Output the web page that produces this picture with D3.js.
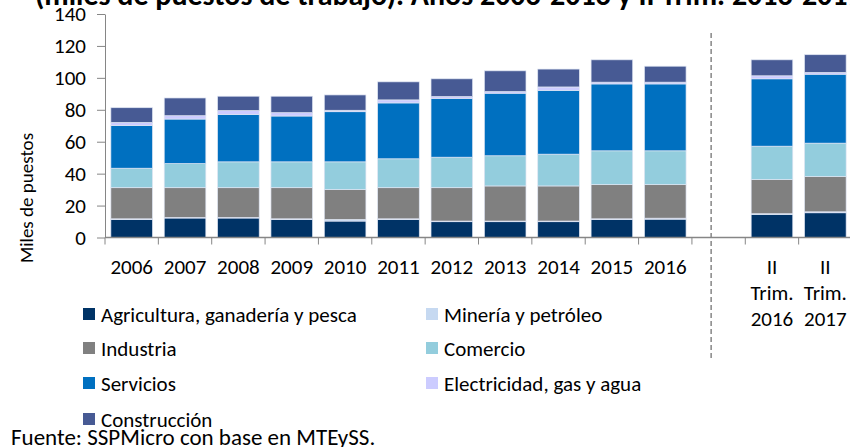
<!DOCTYPE html>
<html>
<head>
<meta charset="utf-8">
<script src="https://cdn.jsdelivr.net/npm/d3@7"></script>
<style>
  body { margin: 0; background: #fff; }
  svg { display: block; }
  text { font-family: Carlito, Calibri, Lato, sans-serif; fill: #000; }
</style>
</head>
<body>
<svg id="chart" width="850" height="447"></svg>
<script>
// categories (the blank one is the gap before the quarterly bars)
const categories = ["2006","2007","2008","2009","2010","2011","2012","2013","2014","2015","2016","gap","IIT2016","IIT2017"];
const catLabels = {
  "IIT2016": ["II","Trim.","2016"],
  "IIT2017": ["II","Trim.","2017"]
};
const barCats = categories.filter(c => c !== "gap");

// miles de puestos por sector
const agricultura  = [11.3,12.2,12.2,11.3,10.3,11.3, 9.9, 9.9, 9.9,11.3,11.5,14.5,15.5];
const mineria      = [ 0.4, 0.4, 0.4, 0.4, 1.0, 0.4, 0.4, 0.4, 0.4, 0.4, 0.6, 0.4, 0.6];
const industria    = [19.5,18.6,18.6,19.5,18.7,19.5,20.9,22.0,22.0,21.4,21.0,21.4,22.1];
const comercio     = [12.2,15.1,16.2,16.2,17.4,18.1,19.1,18.9,19.9,21.2,21.2,20.9,20.9];
const servicios    = [26.8,27.9,29.7,28.7,31.4,35.0,36.9,39.2,40.0,41.9,41.9,42.2,43.2];
const electricidad = [ 1.9, 2.1, 2.4, 2.1, 0.9, 1.9, 1.1, 1.0, 2.1, 1.1, 1.1, 1.9, 1.1];
const construccion = [ 9.2,11.1, 9.0,10.3, 9.6,11.3,11.1,13.0,11.2,14.0,10.0,10.0,11.1];

const yTicks = [0,20,40,60,80,100,120,140];

const series = [
  {key: "agricultura",  name: "Agricultura, ganadería y pesca", values: agricultura,  color: "#003366"},
  {key: "mineria",      name: "Minería y petróleo",             values: mineria,      color: "#c6d9f1"},
  {key: "industria",    name: "Industria",                      values: industria,    color: "#808080"},
  {key: "comercio",     name: "Comercio",                       values: comercio,     color: "#93cddd"},
  {key: "servicios",    name: "Servicios",                      values: servicios,    color: "#0070c0"},
  {key: "electricidad", name: "Electricidad, gas y agua",       values: electricidad, color: "#ccccff"},
  {key: "construccion", name: "Construcción",                   values: construccion, color: "#475a94"}
];

const svg = d3.select("#chart");
const axisColor = "#868686";
const labelSize = "21px";

const x = d3.scaleBand()
  .domain(categories)
  .range([105, 852])
  .paddingInner(0.22)
  .paddingOuter(0.11);

const y = d3.scaleLinear().domain([0, 140]).range([237.5, 14]);

// table for the stack
const table = barCats.map((c, i) => {
  const row = {cat: c};
  series.forEach(s => row[s.key] = s.values[i]);
  return row;
});
const stacked = d3.stack().keys(series.map(s => s.key))(table);

// title (only its last line shows at the top)
svg.append("text")
  .attr("x", 35)
  .attr("y", 5)
  .style("font-weight", "bold")
  .style("font-size", "30px")
  .text("(miles de puestos de trabajo). Años 2006-2016 y II Trim. 2016-2017");

// bars
svg.append("g")
  .selectAll("g")
  .data(stacked)
  .join("g")
  .attr("fill", (d, i) => series[i].color)
  .selectAll("rect")
  .data(d => d)
  .join("rect")
  .attr("x", d => x(d.data.cat))
  .attr("width", x.bandwidth())
  .attr("y", d => y(d[1]))
  .attr("height", d => y(d[0]) - y(d[1]))
  .attr("stroke", "#dfe5f3")
  .attr("stroke-width", 0.7);

// y axis
const yAxis = svg.append("g")
  .attr("transform", "translate(105,0)")
  .call(d3.axisLeft(y).tickValues(yTicks).tickSize(8).tickPadding(11).tickSizeOuter(0));
yAxis.select(".domain").attr("stroke", axisColor);
yAxis.selectAll(".tick line").attr("stroke", axisColor);
yAxis.selectAll(".tick text")
  .style("font-size", labelSize)
  .style("font-family", "Carlito, Calibri, Lato, sans-serif")
  .attr("fill", "#000");

svg.append("text")
  .attr("transform", "translate(33,198) rotate(-90)")
  .attr("text-anchor", "middle")
  .style("font-size", "19px")
  .text("Miles de puestos");

// x axis line and boundary ticks
const step = x.step();
const half = step * x.paddingInner() / 2;
svg.append("line")
  .attr("x1", 105).attr("x2", 850)
  .attr("y1", y(0)).attr("y2", y(0))
  .attr("stroke", axisColor).attr("stroke-width", 1.5);
svg.append("g")
  .selectAll("line")
  .data(categories.concat(["end"]))
  .join("line")
  .attr("x1", (d, i) => x.range()[0] + i * step)
  .attr("x2", (d, i) => x.range()[0] + i * step)
  .attr("y1", y(0))
  .attr("y2", y(0) + 7)
  .attr("stroke", axisColor);

// x labels
const labels = svg.append("g").attr("text-anchor", "middle").style("font-size", labelSize);
barCats.forEach(c => {
  const cx = x(c) + x.bandwidth() / 2;
  const lines = catLabels[c] || [c];
  const t = labels.append("text").attr("x", cx).attr("y", 274);
  lines.forEach((l, j) => {
    t.append("tspan").attr("x", cx).attr("dy", j === 0 ? 0 : 26).text(l);
  });
});

// dashed separator in the gap
const sepX = x("gap") - half + step * 0.36;
svg.append("line")
  .attr("x1", sepX).attr("x2", sepX)
  .attr("y1", 33).attr("y2", 358)
  .attr("stroke", axisColor)
  .attr("stroke-width", 1.5)
  .attr("stroke-dasharray", "5,3");

// legend, two columns
const legendPos = [
  [83, 308], [426, 308],
  [83, 342], [426, 342],
  [83, 377], [426, 377],
  [83, 413]
];
const legendOrder = ["agricultura","mineria","industria","comercio","servicios","electricidad","construccion"];
const legend = svg.append("g");
legendOrder.forEach((k, i) => {
  const s = series.find(d => d.key === k);
  const [lx, ly] = legendPos[i];
  legend.append("rect")
    .attr("x", lx).attr("y", ly)
    .attr("width", 12).attr("height", 12)
    .attr("fill", s.color);
  legend.append("text")
    .attr("x", lx + 18).attr("y", ly + 14)
    .style("font-size", labelSize)
    .text(s.name);
});

// source
svg.append("text")
  .attr("x", 11).attr("y", 445)
  .style("font-size", "23px")
  .text("Fuente: SSPMicro con base en MTEySS.");
</script>
</body>
</html>
